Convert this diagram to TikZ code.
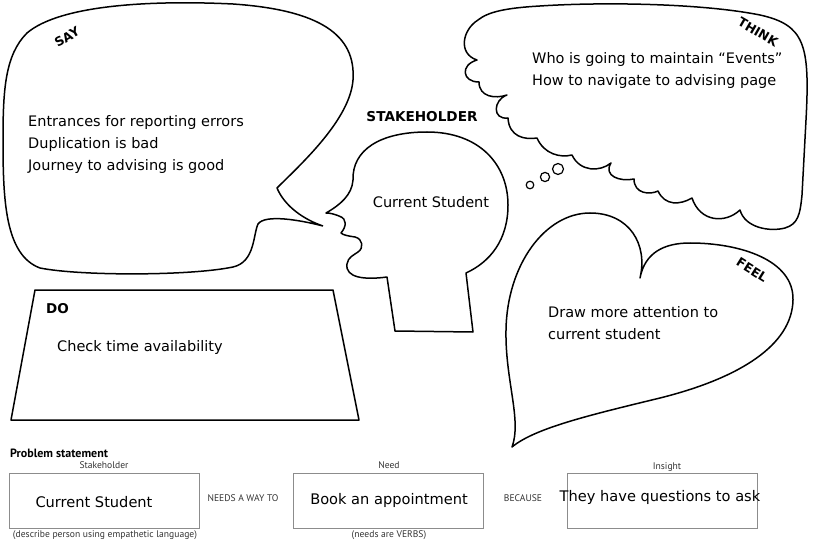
\documentclass[tikz,border=0pt]{standalone}
\usepackage{fontspec}
\setmainfont{DejaVu Sans}
\newfontfamily\labelsans{PT Sans}
\begin{document}
\begin{tikzpicture}[x=1pt,y=-1pt,
  outline/.style={line width=1.5pt,line join=round},
  body/.style={font=\fontsize{14.5}{22}\selectfont,inner sep=0pt,anchor=west,align=left},
  tag/.style={font=\bfseries\fontsize{12.5}{14}\selectfont,inner sep=0pt},
  small/.style={font=\labelsans\fontsize{9.6}{11}\selectfont,inner sep=0pt,text=black!80},
  pbox/.style={draw=black!45,line width=1pt},
  boxtext/.style={font=\fontsize{14.6}{17}\selectfont,inner sep=0pt}]
\useasboundingbox (0,0) rectangle (830,548);
% SAY bubble
\draw[outline] (323,226) .. controls (305,220) and (285,207) .. (277,188)
  .. controls (300,165) and (350,120) .. (353,80)
  .. controls (356,35) and (320,10) .. (233,4)
  .. controls (150,0) and (60,5) .. (27,33)
  .. controls (5,55) and (3,90) .. (3,140)
  .. controls (3,200) and (5,255) .. (40,268)
  .. controls (80,276) and (190,276) .. (233,267)
  .. controls (255,262) and (253,235) .. (258,224)
  .. controls (265,214) and (300,220) .. (323,226);
\node[tag,rotate=30] (saylbl) at (67,37) {SAY};
\node[body] (saytext) at (28,145) {Entrances for reporting errors\\Duplication is bad\\Journey to advising is good};
% THINK cloud
\draw[outline] (740,210) .. controls (745,228) and (770,232) .. (785,228)
  .. controls (798,224) and (800,215) .. (802,195)
  -- (806,120) .. controls (810,45) and (805,25) .. (760,15)
  .. controls (700,3) and (600,2) .. (540,6)
  .. controls (505,8) and (488,12) .. (478,20)
  .. controls (462,30) and (458,54) .. (477,60)
  .. controls (460,65) and (462,82) .. (479,82)
  .. controls (479,97) and (495,99) .. (507,95)
  .. controls (493,100) and (492,120) .. (508,118)
  .. controls (509,137) and (525,140) .. (537,138)
  .. controls (544,154) and (560,158) .. (572,155)
  .. controls (580,172) and (600,172) .. (611,163)
  .. controls (603,176) and (620,182) .. (634,179)
  .. controls (634,194) and (650,195) .. (658,191)
  .. controls (665,206) and (680,205) .. (692,198)
  .. controls (700,222) and (725,224) .. (740,210) -- cycle;
\draw[line width=1.2pt] (530,185) circle[radius=3.8];
\draw[line width=1.2pt] (545,177) circle[radius=4.6];
\draw[line width=1.2pt] (558,169) circle[radius=5.5];
\node[tag,rotate=-30] (thinklbl) at (758,32) {THINK};
\node[body] (thinktext) at (532,71) {Who is going to maintain “Events”\\How to navigate to advising page};
% Head
\draw[outline] (326,213) .. controls (340,205) and (352,195) .. (353,180)
  .. controls (352,150) and (380,132) .. (427,132)
  .. controls (480,132) and (508,165) .. (508,205)
  .. controls (508,240) and (490,262) .. (466,273)
  -- (473,332) -- (395,331) -- (387,277)
  .. controls (365,280) and (345,278) .. (347,264)
  .. controls (348,257) and (354,255) .. (358,252)
  .. controls (364,248) and (363,239) .. (355,237)
  .. controls (348,236) and (343,235) .. (341,233)
  .. controls (346,227) and (348,219) .. (339,216)
  .. controls (334,214) and (330,213) .. (326,213) -- cycle;
\node[tag,font=\bfseries\fontsize{13.6}{15}\selectfont] (stakelbl) at (422,117) {STAKEHOLDER};
\node[body,anchor=center] (headtext) at (431,202) {Current Student};
% Heart
\draw[outline] (512,447) .. controls (522,420) and (505,380) .. (506,330)
  .. controls (507,265) and (545,213) .. (590,213)
  .. controls (630,213) and (648,245) .. (640,278)
  .. controls (645,252) and (665,243) .. (690,243)
  .. controls (740,243) and (794,260) .. (793,300)
  .. controls (792,345) and (740,378) .. (660,398)
  .. controls (590,415) and (535,428) .. (512,447) -- cycle;
\node[tag,rotate=-32] (feellbl) at (752,270) {FEEL};
\node[body] (feeltext) at (548,323) {Draw more attention to\\current student};
% DO
\draw[outline] (35,290) -- (333,290) -- (359,420) -- (11,420) -- cycle;
\node[tag,anchor=west,font=\bfseries\fontsize{13.5}{15}\selectfont] (dolbl) at (46,309) {DO};
\node[body] (dotext) at (57,347) {Check time availability};
% Problem statement
\node[font=\labelsans\bfseries\fontsize{12}{14}\selectfont,inner sep=0pt,anchor=west] (pstitle) at (10,453) {Problem statement};
\node[small] (stkh) at (104,465) {Stakeholder};
\draw[pbox] (9,473) rectangle (199,528);
\node[boxtext] (stktext) at (94,502) {Current Student};
\node[small] (stknote) at (105,535) {(describe person using empathetic language)};
\node[small] (needsway) at (243,498) {NEEDS A WAY TO};
\node[small] (needlbl) at (389,465) {Need};
\draw[pbox] (293,473) rectangle (483,528);
\node[boxtext] (needtext) at (389,500) {Book an appointment};
\node[small] (neednote) at (389,535) {(needs are VERBS)};
\node[small] (because) at (523,498) {BECAUSE};
\node[small] (inslbl) at (667,467) {Insight};
\draw[pbox] (567,473) rectangle (757,528);
\node[boxtext] (instext) at (660,497) {They have questions to ask};
\end{tikzpicture}
\end{document}
